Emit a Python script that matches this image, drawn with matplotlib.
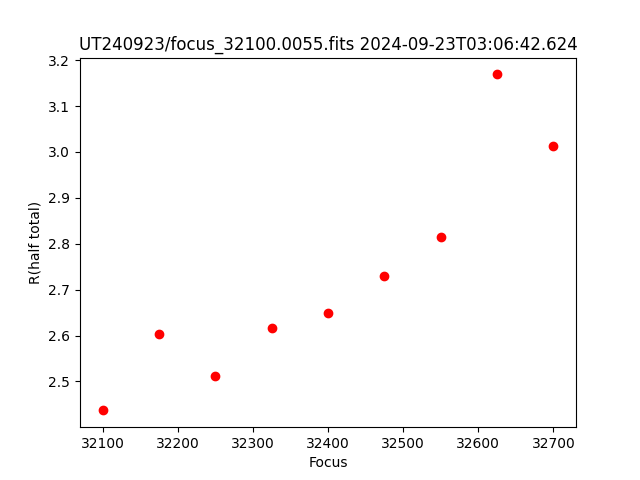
import matplotlib
matplotlib.use("Agg")
import matplotlib.pyplot as plt

focus = [32100, 32175, 32250, 32325, 32400, 32475, 32550, 32625, 32700]
r_half = [2.437, 2.603, 2.512, 2.617, 2.649, 2.730, 2.814, 3.169, 3.012]

fig, ax = plt.subplots(figsize=(6.4, 4.8), dpi=100)
ax.plot(focus, r_half, 'ro')
ax.set_xlabel("Focus")
ax.set_ylabel("R(half total)")
ax.set_title("UT240923/focus_32100.0055.fits 2024-09-23T03:06:42.624")
fig.savefig("out.png")
